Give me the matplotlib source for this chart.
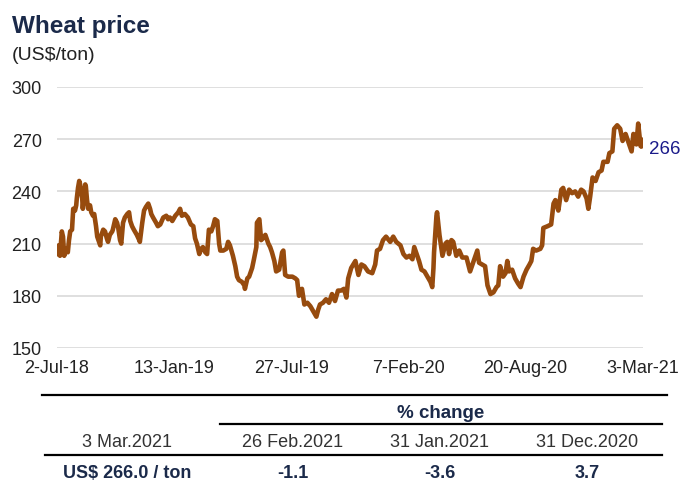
#!/usr/bin/env python3
"""Wheat price line chart with a small % change table underneath."""

import matplotlib as mpl
mpl.use("Agg")
import matplotlib.pyplot as plt
import matplotlib.dates as mdates
import pandas as pd

mpl.rcParams["font.family"] = ["Liberation Sans", "DejaVu Sans"]

START_DATE = "2018-07-02"

# days after START_DATE
day_offsets = [
    0, 3, 5, 8, 10, 12, 15, 18, 20, 22, 25, 27, 30, 32, 33, 35, 37, 38, 40, 42,
    43, 45, 47, 48, 50, 52, 55, 57, 60, 62, 65, 67, 70, 72, 73, 77, 80, 83, 85, 88,
    92, 93, 97, 100, 102, 105, 107, 110, 113, 117, 120, 122, 125, 128, 133, 137, 138, 142, 145, 148,
    152, 155, 157, 160, 165, 168, 172, 177, 182, 185, 188, 192, 197, 202, 205, 208, 213, 218, 223, 227,
    230, 233, 237, 240, 243, 247, 250, 253, 257, 260, 263, 267, 270, 272, 277, 282, 285, 288, 293, 297,
    300, 303, 308, 312, 313, 317, 320, 325, 328, 332, 333, 337, 340, 343, 347, 352, 355, 358, 362, 365,
    370, 375, 377, 380, 385, 392, 397, 400, 403, 408, 412, 417, 422, 427, 432, 435, 438, 443, 448, 453,
    458, 463, 468, 473, 478, 482, 485, 490, 497, 502, 507, 512, 518, 525, 530, 533, 538, 543, 548, 555,
    560, 565, 572, 577, 582, 587, 592, 595, 600, 603, 607, 612, 617, 622, 625, 627, 628, 632, 633, 637,
    642, 647, 650, 653, 657, 660, 665, 670, 675, 682, 688, 693, 700, 703, 708, 713, 717, 722, 727, 732,
    735, 738, 743, 747, 750, 753, 758, 763, 768, 772, 777, 782, 787, 790, 793, 798, 805, 808, 810, 817,
    823, 827, 830, 835, 840, 843, 848, 853, 858, 863, 868, 873, 877, 882, 885, 888, 892, 897, 902, 907,
    910, 917, 920, 925, 928, 933, 938, 942, 947, 952, 957, 960, 965, 968, 972, 973, 975,
]

# US$/ton
prices = [
    204, 209, 203, 217, 214, 203, 207, 205, 212, 217, 218, 230, 229, 232, 236, 242, 246, 245, 240, 236,
    230, 238, 244, 243, 235, 230, 232, 228, 226, 227, 220, 214, 211, 209, 214, 218, 217, 213, 211, 215,
    217, 218, 224, 222, 219, 212, 210, 222, 225, 227, 228, 223, 220, 218, 215, 212, 211, 222, 229, 231,
    233, 230, 227, 225, 222, 220, 221, 225, 226, 224, 225, 223, 226, 228, 230, 226, 227, 225, 221, 220,
    213, 210, 204, 207, 208, 205, 204, 218, 217, 220, 224, 223, 210, 206, 206, 207, 211, 209, 203, 197,
    191, 189, 188, 186, 184, 190, 191, 196, 201, 208, 222, 224, 212, 213, 215, 210, 208, 205, 200, 194,
    195, 205, 206, 192, 191, 191, 190, 189, 180, 184, 175, 176, 174, 171, 168, 172, 175, 176, 178, 176,
    181, 177, 183, 183, 184, 179, 190, 196, 200, 192, 198, 197, 194, 193, 198, 206, 207, 212, 214, 211,
    214, 211, 209, 204, 202, 203, 201, 208, 203, 200, 195, 194, 191, 188, 185, 196, 205, 226, 228, 215,
    203, 210, 211, 204, 212, 211, 203, 206, 202, 202, 194, 199, 206, 199, 198, 197, 186, 181, 182, 185,
    186, 197, 191, 193, 200, 194, 195, 190, 187, 185, 191, 195, 198, 200, 207, 206, 207, 209, 219, 220,
    221, 233, 235, 229, 241, 242, 235, 241, 239, 240, 237, 241, 240, 236, 230, 237, 248, 246, 251, 252,
    257, 257, 262, 263, 276, 278, 276, 269, 273, 268, 263, 273, 267, 279, 266, 270, 266,
]

tick_offsets = [0, 195, 390, 585, 780, 975]
tick_labels = ["2-Jul-18", "13-Jan-19", "27-Jul-19", "7-Feb-20", "20-Aug-20", "3-Mar-21"]
y_ticks = [150, 180, 210, 240, 270, 300]

last_label = "266"
table_header = "% change"
table_dates = ["3 Mar.2021", "26 Feb.2021", "31 Jan.2021", "31 Dec.2020"]
table_values = ["US$ 266.0 / ton", "-1.1", "-3.6", "3.7"]

LINE_COLOR = "#974B0E"
NAVY = "#1B2A4A"
TEXT = "#222222"
W, H = 683, 485


def fx(x):
    return x / W


def fy(y):
    return 1 - y / H


def main():
    start = pd.Timestamp(START_DATE)
    dates = start + pd.to_timedelta(day_offsets, unit="D")
    tick_dates = start + pd.to_timedelta(tick_offsets, unit="D")

    fig = plt.figure(figsize=(W / 100, H / 100), dpi=100)
    ax = fig.add_axes([fx(57), fy(349), fx(643) - fx(57), fy(88) - fy(349)])

    ax.plot(dates, prices, color=LINE_COLOR, lw=3.3, solid_joinstyle="round", zorder=3)

    ax.set_ylim(150, 300)
    ax.set_yticks(y_ticks)
    ax.set_xlim(mdates.date2num(start), mdates.date2num(start) + 976)
    ax.set_xticks(tick_dates)
    ax.set_xticklabels(tick_labels)
    ax.grid(axis="y", color="#D9D9D9", lw=1.2, zorder=0)
    for side in ax.spines.values():
        side.set_visible(False)
    ax.tick_params(axis="both", length=0, labelsize=13, colors=TEXT)
    ax.tick_params(axis="y", pad=11)
    ax.tick_params(axis="x", pad=8)

    ax.annotate(last_label, (dates[-1], prices[-1]), xytext=(5, -2), textcoords="offset points",
                ha="left", va="center", fontsize=13.5, color="#1B1B8A", annotation_clip=False)

    fig.text(fx(12), fy(33), "Wheat price", fontsize=17.5, fontweight="bold", color=NAVY,
             ha="left", va="baseline")
    fig.text(fx(12), fy(55), "(US$/ton)", fontsize=14, color=TEXT, ha="left", va="center")

    # table under the chart
    fig.add_artist(plt.Line2D([fx(42), fx(667)], [fy(396), fy(396)], color="black", lw=1.6))
    fig.add_artist(plt.Line2D([fx(220), fx(662)], [fy(425), fy(425)], color="black", lw=1.6))
    fig.add_artist(plt.Line2D([fx(45), fx(662)], [fy(456), fy(456)], color="black", lw=1.6))

    fig.text(fx(441), fy(414), table_header, fontsize=13.5, fontweight="bold", color=NAVY,
             ha="center", va="center")
    col_x = [127, 293, 440, 587]
    for cx, d, v in zip(col_x, table_dates, table_values):
        fig.text(fx(cx), fy(443), d, fontsize=13, color="#333333", ha="center", va="center")
        fig.text(fx(cx), fy(474), v, fontsize=13, fontweight="bold", color=NAVY,
                 ha="center", va="center")

    fig.savefig("out.png", dpi=100)
    plt.close(fig)


if __name__ == "__main__":
    main()
